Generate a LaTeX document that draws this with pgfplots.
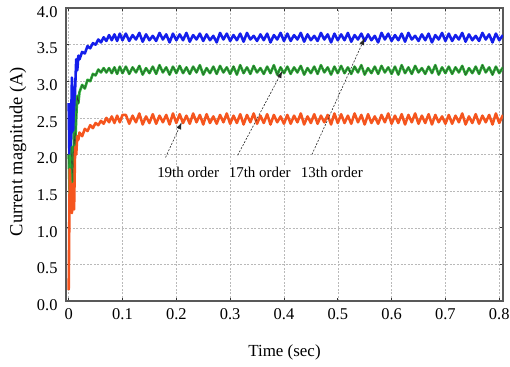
\documentclass[border=0pt]{standalone}
\usepackage{fontspec}
\setmainfont{Liberation Serif}
\usepackage{pgfplots}
\usepackage{pgfplotstable}
\pgfplotsset{compat=1.18}
\usetikzlibrary{arrows.meta}
\definecolor{cblue}{RGB}{20,30,235}
\definecolor{cgreen}{RGB}{40,175,50}
\definecolor{cred}{RGB}{245,85,30}
\pgfplotstableread{
t b g r
0.000 2.70 2.00 0.15
0.002 1.60 1.40 1.80
0.004 2.20 1.70 1.40
0.006 3.05 2.10 1.20
0.008 2.60 1.60 1.60
0.010 2.20 2.30 1.25
0.012 2.90 2.10 2.10
0.014 3.30 2.50 2.00
0.016 3.15 2.80 2.25
0.018 3.35 2.70 2.20
0.020 3.30 2.85 2.30
0.025 3.40 2.95 2.25
0.030 3.38 2.90 2.35
0.035 3.48 3.02 2.32
0.040 3.45 3.00 2.40
0.045 3.52 3.10 2.36
0.050 3.50 3.08 2.43
0.055 3.57 3.16 2.40
0.060 3.53 3.12 2.46
0.065 3.60 3.18 2.42
0.070 3.55 3.12 2.50
0.075 3.63 3.18 2.44
0.080 3.56 3.11 2.52
0.085 3.64 3.19 2.43
0.090 3.55 3.10 2.53
0.095 3.65 3.20 2.44
0.100 3.56 3.11 2.54
0.10625 3.65 3.20 2.54
0.1125 3.55 3.10 2.42
0.11875 3.63 3.19 2.53
0.125 3.57 3.12 2.44
0.13125 3.66 3.21 2.56
0.1375 3.54 3.09 2.41
0.14375 3.64 3.18 2.52
0.15 3.56 3.11 2.43
0.15625 3.62 3.20 2.55
0.1625 3.55 3.10 2.42
0.16875 3.66 3.22 2.53
0.175 3.57 3.12 2.44
0.18125 3.64 3.19 2.54
0.1875 3.53 3.09 2.41
0.19375 3.65 3.20 2.56
0.2 3.56 3.11 2.43
0.20625 3.64 3.21 2.55
0.2125 3.56 3.11 2.43
0.21875 3.66 3.19 2.53
0.225 3.54 3.10 2.42
0.23125 3.63 3.20 2.56
0.2375 3.57 3.12 2.44
0.24375 3.65 3.22 2.54
0.25 3.55 3.09 2.41
0.25625 3.64 3.18 2.55
0.2625 3.56 3.11 2.43
0.26875 3.62 3.20 2.52
0.275 3.53 3.10 2.42
0.28125 3.66 3.21 2.54
0.2875 3.57 3.12 2.44
0.29375 3.65 3.19 2.56
0.3 3.55 3.10 2.42
0.30625 3.63 3.20 2.53
0.3125 3.56 3.09 2.43
0.31875 3.65 3.22 2.55
0.325 3.54 3.11 2.41
0.33125 3.66 3.19 2.54
0.3375 3.57 3.10 2.44
0.34375 3.62 3.21 2.56
0.35 3.55 3.12 2.42
0.35625 3.64 3.18 2.53
0.3625 3.56 3.10 2.43
0.36875 3.65 3.20 2.55
0.375 3.53 3.11 2.41
0.38125 3.63 3.22 2.54
0.3875 3.57 3.09 2.44
0.39375 3.66 3.19 2.52
0.4 3.55 3.11 2.42
0.40625 3.65 3.20 2.54
0.4125 3.55 3.10 2.42
0.41875 3.63 3.19 2.53
0.425 3.57 3.12 2.44
0.43125 3.66 3.21 2.56
0.4375 3.54 3.09 2.41
0.44375 3.64 3.18 2.52
0.45 3.56 3.11 2.43
0.45625 3.62 3.20 2.55
0.4625 3.55 3.10 2.42
0.46875 3.66 3.22 2.53
0.475 3.57 3.12 2.44
0.48125 3.64 3.19 2.54
0.4875 3.53 3.09 2.41
0.49375 3.65 3.20 2.56
0.5 3.56 3.11 2.43
0.50625 3.64 3.21 2.55
0.5125 3.56 3.11 2.43
0.51875 3.66 3.19 2.53
0.525 3.54 3.10 2.42
0.53125 3.63 3.20 2.56
0.5375 3.57 3.12 2.44
0.54375 3.65 3.22 2.54
0.55 3.55 3.09 2.41
0.55625 3.64 3.18 2.55
0.5625 3.56 3.11 2.43
0.56875 3.62 3.20 2.52
0.575 3.53 3.10 2.42
0.58125 3.66 3.21 2.54
0.5875 3.57 3.12 2.44
0.59375 3.65 3.19 2.56
0.6 3.55 3.10 2.42
0.60625 3.63 3.20 2.53
0.6125 3.56 3.09 2.43
0.61875 3.65 3.22 2.55
0.625 3.54 3.11 2.41
0.63125 3.66 3.19 2.54
0.6375 3.57 3.10 2.44
0.64375 3.62 3.21 2.56
0.65 3.55 3.12 2.42
0.65625 3.64 3.18 2.53
0.6625 3.56 3.10 2.43
0.66875 3.65 3.20 2.55
0.675 3.53 3.11 2.41
0.68125 3.63 3.22 2.54
0.6875 3.57 3.09 2.44
0.69375 3.66 3.19 2.52
0.7 3.55 3.11 2.42
0.70625 3.65 3.20 2.54
0.7125 3.55 3.10 2.42
0.71875 3.63 3.19 2.53
0.725 3.57 3.12 2.44
0.73125 3.66 3.21 2.56
0.7375 3.54 3.09 2.41
0.74375 3.64 3.18 2.52
0.75 3.56 3.11 2.43
0.75625 3.62 3.20 2.55
0.7625 3.55 3.10 2.42
0.76875 3.66 3.22 2.53
0.775 3.57 3.12 2.44
0.78125 3.64 3.19 2.54
0.7875 3.53 3.09 2.41
0.79375 3.65 3.20 2.56
0.8 3.56 3.11 2.43
0.807 3.63 3.19 2.54
}\datatable
\begin{document}
\begin{tikzpicture}
\useasboundingbox (-66bp,-66bp) rectangle (444bp,301bp);
\begin{axis}[
  scale only axis,
  width=437bp, height=293bp,
  at={(0,0)}, anchor=south west,
  xmin=-0.005, xmax=0.807, ymin=0, ymax=4,
  xtick={0,0.1,0.2,0.3,0.4,0.5,0.6,0.7,0.8},
  xticklabels={0,0.1,0.2,0.3,0.4,0.5,0.6,0.7,0.8},
  ytick={0,0.5,1,1.5,2,2.5,3,3.5,4},
  yticklabels={0.0,0.5,1.0,1.5,2.0,2.5,3.0,3.5,4.0},
  tick align=inside,
  major tick length=3pt,
  tick style={black!80, line width=0.6pt},
  axis line style={black!65, line width=1.3pt},
  grid=major,
  major grid style={gray!55, dash pattern=on 2pt off 1.5pt, line width=0.5pt},
  ticklabel style={font=\fontsize{16.5}{18}\selectfont},
  xticklabel style={yshift=-4bp},
  yticklabel style={yshift=-4bp, xshift=-5bp},
  xlabel={Time (sec)},
  ylabel={Current magnitude (A)},
  xlabel style={font=\fontsize{17}{19}\selectfont, at={(axis description cs:0.5,-0.174)}, anchor=center},
  ylabel style={font=\fontsize{18.5}{20}\selectfont, at={(axis description cs:-0.1098,0.51)}, anchor=center},
  clip=true,
]
\addplot[cblue, line width=2.6pt, line join=round] table[x=t, y=b] {\datatable};
\addplot[cgreen, line width=2.6pt, line join=round] table[x=t, y=g] {\datatable};
\addplot[black!80, line width=0.35pt] table[x=t, y=g] {\datatable};
\addplot[cred, line width=2.6pt, line join=round] table[x=t, y=r] {\datatable};
\draw[black!85, dash pattern=on 2pt off 1.5pt, line width=0.6pt, -{Latex[length=7pt,width=5pt]}] (axis cs:0.18,1.96) -- (axis cs:0.21,2.44);
\draw[black!85, dash pattern=on 2pt off 1.5pt, line width=0.6pt, -{Latex[length=7pt,width=5pt]}] (axis cs:0.314,1.99) -- (axis cs:0.397,3.14);
\draw[black!85, dash pattern=on 2pt off 1.5pt, line width=0.6pt, -{Latex[length=7pt,width=5pt]}] (axis cs:0.452,2.0) -- (axis cs:0.55,3.59);
\node[font=\fontsize{15}{17}\selectfont, fill=white, inner sep=1pt] at (axis cs:0.222,1.75) {19th order};
\node[font=\fontsize{15}{17}\selectfont, fill=white, inner sep=1pt] at (axis cs:0.355,1.75) {17th order};
\node[font=\fontsize{15}{17}\selectfont, fill=white, inner sep=1pt] at (axis cs:0.489,1.75) {13th order};
\end{axis}
\end{tikzpicture}
\end{document}
